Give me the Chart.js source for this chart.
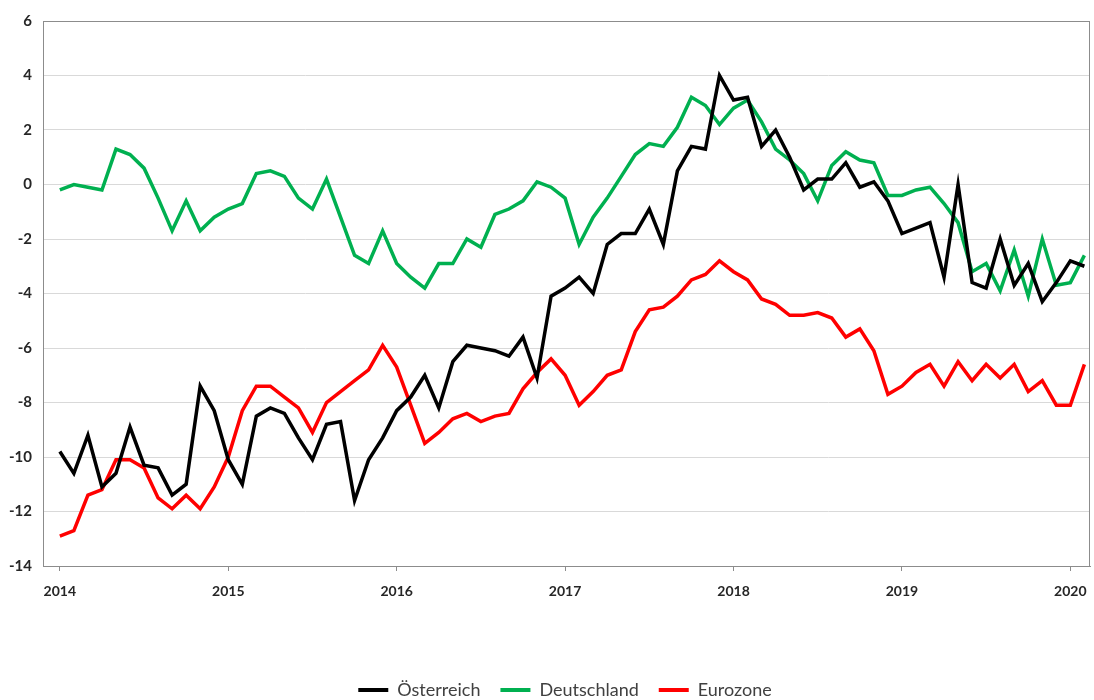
<!DOCTYPE html>
<html>
<head>
<meta charset="utf-8">
<script src="https://cdn.jsdelivr.net/npm/chart.js@4.4.1/dist/chart.umd.min.js"></script>
<style>
  html, body { margin: 0; padding: 0; background: #fff; }
  #wrap { width: 1094px; height: 700px; }
</style>
</head>
<body>
<div id="wrap"><canvas id="chart" width="1094" height="700"></canvas></div>
<script>
// monthly, Jan 2014 - Feb 2020
const years = ["2014", "2015", "2016", "2017", "2018", "2019", "2020"];
const firstYear = 2014;

const oesterreich = [
  -9.8, -10.6, -9.2, -11.1, -10.6, -8.9, -10.3, -10.4, -11.4, -11.0, -7.4, -8.3,
  -10.1, -11.0, -8.5, -8.2, -8.4, -9.3, -10.1, -8.8, -8.7, -11.6, -10.1, -9.3,
  -8.3, -7.8, -7.0, -8.2, -6.5, -5.9, -6.0, -6.1, -6.3, -5.6, -7.1, -4.1,
  -3.8, -3.4, -4.0, -2.2, -1.8, -1.8, -0.9, -2.2, 0.5, 1.4, 1.3, 4.0,
  3.1, 3.2, 1.4, 2.0, 1.0, -0.2, 0.2, 0.2, 0.8, -0.1, 0.1, -0.6,
  -1.8, -1.6, -1.4, -3.4, 0.0, -3.6, -3.8, -2.0, -3.7, -2.9, -4.3, -3.6,
  -2.8, -3.0
];

const deutschland = [
  -0.2, 0.0, -0.1, -0.2, 1.3, 1.1, 0.6, -0.5, -1.7, -0.6, -1.7, -1.2,
  -0.9, -0.7, 0.4, 0.5, 0.3, -0.5, -0.9, 0.2, -1.2, -2.6, -2.9, -1.7,
  -2.9, -3.4, -3.8, -2.9, -2.9, -2.0, -2.3, -1.1, -0.9, -0.6, 0.1, -0.1,
  -0.5, -2.2, -1.2, -0.5, 0.3, 1.1, 1.5, 1.4, 2.1, 3.2, 2.9, 2.2,
  2.8, 3.1, 2.3, 1.3, 0.9, 0.4, -0.6, 0.7, 1.2, 0.9, 0.8, -0.4,
  -0.4, -0.2, -0.1, -0.7, -1.4, -3.2, -2.9, -3.9, -2.4, -4.1, -2.0, -3.7,
  -3.6, -2.6
];

const eurozone = [
  -12.9, -12.7, -11.4, -11.2, -10.1, -10.1, -10.4, -11.5, -11.9, -11.4, -11.9, -11.1,
  -10.0, -8.3, -7.4, -7.4, -7.8, -8.2, -9.1, -8.0, -7.6, -7.2, -6.8, -5.9,
  -6.7, -8.1, -9.5, -9.1, -8.6, -8.4, -8.7, -8.5, -8.4, -7.5, -6.9, -6.4,
  -7.0, -8.1, -7.6, -7.0, -6.8, -5.4, -4.6, -4.5, -4.1, -3.5, -3.3, -2.8,
  -3.2, -3.5, -4.2, -4.4, -4.8, -4.8, -4.7, -4.9, -5.6, -5.3, -6.1, -7.7,
  -7.4, -6.9, -6.6, -7.4, -6.5, -7.2, -6.6, -7.1, -6.6, -7.6, -7.2, -8.1,
  -8.1, -6.6
];

const yTicks = [6, 4, 2, 0, -2, -4, -6, -8, -10, -12, -14];

function toPoints(arr) {
  return arr.map((v, i) => ({ x: i, y: v }));
}

// frame round the plot area
const frame = {
  id: "frame",
  afterDraw(chart) {
    const a = chart.chartArea;
    const ctx = chart.ctx;
    ctx.save();
    ctx.strokeStyle = "#8c8c8c";
    ctx.lineWidth = 1;
    ctx.strokeRect(a.left + 0.5, a.top + 0.5, a.right - a.left - 1, a.bottom - a.top);
    ctx.restore();
  },
};

// legend sits lower and a bit right, as in the original
const legendNudge = {
  id: "legendNudge",
  afterInit(chart) {
    const lg = chart.legend;
    const fit = lg.fit;
    lg.fit = function () {
      fit.call(this);
      this.height -= 9;
    };
  },
  afterLayout(chart) {
    const lg = chart.legend;
    lg.left += 20;
    lg.right += 20;
    lg.legendHitBoxes.forEach((b) => { b.left += 20; });
  },
};

const ctx = document.getElementById("chart").getContext("2d");
new Chart(ctx, {
  type: "line",
  data: {
    datasets: [
      { label: "Österreich", data: toPoints(oesterreich), borderColor: "#000000", backgroundColor: "#000000" },
      { label: "Deutschland", data: toPoints(deutschland), borderColor: "#00b050", backgroundColor: "#00b050" },
      { label: "Eurozone", data: toPoints(eurozone), borderColor: "#ff0000", backgroundColor: "#ff0000" },
    ],
  },
  options: {
    responsive: false,
    animation: false,
    layout: { padding: { top: 21, right: 4, left: 0, bottom: 0 } },
    elements: {
      point: { radius: 0 },
      line: { borderWidth: 3.5, tension: 0, borderJoinStyle: "miter" },
    },
    scales: {
      x: {
        type: "linear",
        min: -1.2,
        max: 73.4,
        afterBuildTicks: (scale) => {
          scale.ticks = years.map((y, k) => ({ value: k * 12 }));
        },
        afterFit: (scale) => {
          scale.height = 95;
          scale.paddingRight = 0;
          scale.paddingLeft = 0;
        },
        grid: { drawOnChartArea: false, drawTicks: true, tickLength: 5, color: "#8c8c8c" },
        border: { color: "#8c8c8c" },
        ticks: {
          padding: 12,
          maxRotation: 0,
          color: "#262626",
          font: { family: "Lato", size: 14, weight: "bold" },
          callback: (v) => String(firstYear + v / 12),
        },
      },
      y: {
        min: -14,
        max: 6,
        afterBuildTicks: (scale) => {
          scale.ticks = yTicks.map((v) => ({ value: v }));
        },
        afterFit: (scale) => { scale.width = 43; },
        grid: { color: "#d9d9d9", drawTicks: false },
        border: { color: "#8c8c8c" },
        ticks: {
          padding: 11,
          color: "#262626",
          font: { family: "Lato", size: 15, weight: "bold" },
        },
      },
    },
    plugins: {
      tooltip: { enabled: false },
      legend: {
        position: "bottom",
        labels: {
          boxWidth: 30,
          boxHeight: 4,
          padding: 20,
          color: "#404040",
          font: { family: "Lato", size: 18 },
          generateLabels: (chart) =>
            Chart.defaults.plugins.legend.labels.generateLabels(chart).map((l) => ({ ...l, lineWidth: 0 })),
        },
      },
    },
  },
  plugins: [frame, legendNudge],
});
</script>
</body>
</html>
